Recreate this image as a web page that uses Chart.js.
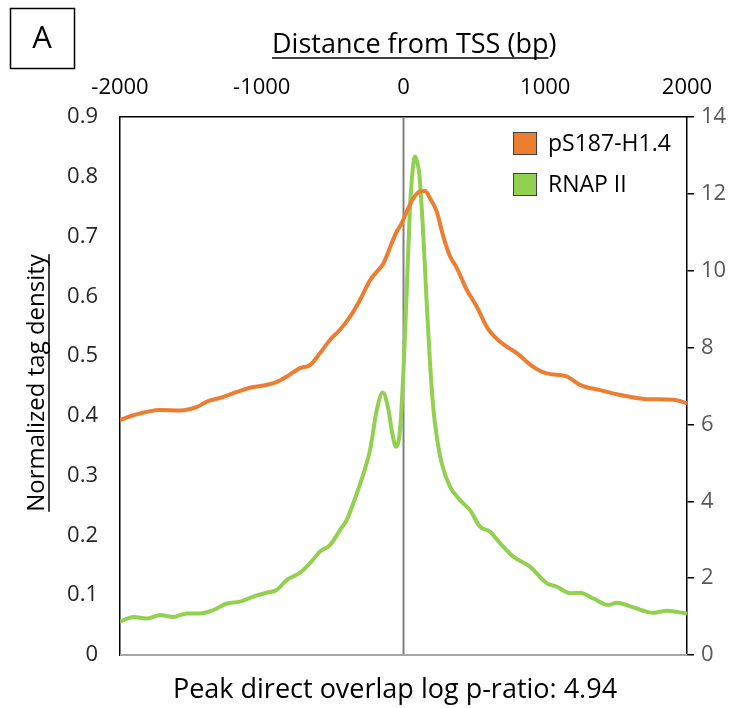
<!DOCTYPE html>
<html>
<head>
<meta charset="utf-8">
<script src="https://cdn.jsdelivr.net/npm/chart.js@4.4.1/dist/chart.umd.min.js"></script>
<style>
  html, body { margin: 0; padding: 0; background: #fff; }
  #wrap { width: 739px; height: 708px; }
</style>
</head>
<body>
<div id="wrap"><canvas id="tssChart"></canvas></div>
<script>
// distance from TSS (bp) / tag density
var h14Pos = [-2000, -1906, -1718, -1577, -1457, -1386, -1295, -1175, -1083, -963, -892, -822, -730, -660, -589,
  -519, -448, -377, -307, -236, -189, -142, -83, -48, -13, 23, 69, 116, 152, 187, 234, 281, 328, 375, 446, 516,
  587, 610, 681, 728, 799, 916, 1010, 1151, 1245, 1386, 1527, 1716, 1903, 2000];
var h14Val = [0.393, 0.401, 0.410, 0.409, 0.415, 0.424, 0.430, 0.440, 0.447, 0.452, 0.457, 0.466, 0.480, 0.485, 0.505,
  0.527, 0.544, 0.566, 0.594, 0.627, 0.641, 0.655, 0.689, 0.708, 0.722, 0.742, 0.764, 0.775, 0.776, 0.764, 0.742, 0.700,
  0.667, 0.648, 0.611, 0.583, 0.549, 0.541, 0.524, 0.516, 0.505, 0.482, 0.471, 0.466, 0.452, 0.443, 0.435, 0.428,
  0.427, 0.421];

var rnapPos = [-2000, -1906, -1812, -1718, -1624, -1529, -1436, -1342, -1247, -1153, -1060, -965, -895, -824, -730,
  -660, -589, -519, -448, -401, -354, -284, -236, -189, -147, -107, -81, -53, -25, -1, 23, 46, 67, 81, 95, 112, 140,
  163, 187, 211, 234, 269, 328, 399, 469, 540, 610, 681, 775, 892, 1010, 1081, 1175, 1245, 1339, 1445, 1504, 1621,
  1762, 1857, 2000];
var rnapVal = [0.87, 0.99, 0.95, 1.04, 0.99, 1.08, 1.08, 1.17, 1.34, 1.39, 1.52, 1.62, 1.69, 1.95, 2.14,
  2.39, 2.69, 2.86, 3.25, 3.51, 3.95, 4.70, 5.33, 6.37, 6.83, 6.40, 5.80, 5.42, 5.85, 7.35, 9.50, 11.66, 12.70, 12.97,
  12.85, 12.50, 10.90, 9.20, 7.60, 6.40, 5.70, 5.00, 4.38, 4.03, 3.77, 3.34, 3.21, 2.91, 2.56, 2.30, 1.87, 1.78,
  1.61, 1.62, 1.47, 1.30, 1.36, 1.24, 1.10, 1.15, 1.08];

var seriesNames = ['pS187-H1.4', 'RNAP II'];
var seriesColors = ['#ED7D31', '#92D050'];

var panelLetter = 'A';
var topTitle = 'Distance from TSS (bp';   // closing paren is not underlined in the original
var leftTitle = 'Normalized tag density';
var footNote = 'Peak direct overlap log p-ratio: 4.94';

var FONT = '"Open Sans", "Noto Sans", sans-serif';

function toPoints(xs, ys) {
  var pts = [];
  for (var i = 0; i < xs.length; i++) pts.push({ x: xs[i], y: ys[i] });
  return pts;
}

// gray TSS marker and bottom axis line, under the curves
var underlay = {
  id: 'underlay',
  beforeDatasetsDraw: function(chart) {
    var ctx = chart.ctx, a = chart.chartArea;
    var x0 = chart.scales.x.getPixelForValue(0);
    ctx.save();
    ctx.strokeStyle = '#808080';
    ctx.lineWidth = 2;
    ctx.beginPath();
    ctx.moveTo(x0, a.top);
    ctx.lineTo(x0, a.bottom);
    ctx.stroke();
    ctx.strokeStyle = '#A6A6A6';
    ctx.lineWidth = 2;
    ctx.beginPath();
    ctx.moveTo(a.left, a.bottom);
    ctx.lineTo(a.right, a.bottom);
    ctx.stroke();
    ctx.restore();
  }
};

// titles, panel letter, legend and footnote
var decorations = {
  id: 'decorations',
  afterDraw: function(chart) {
    var ctx = chart.ctx, a = chart.chartArea;
    ctx.save();
    ctx.fillStyle = '#000';
    ctx.strokeStyle = '#000';

    // panel letter in a box
    ctx.lineWidth = 1.5;
    ctx.strokeRect(10.5, 8.5, 64, 60);
    ctx.font = '31px ' + FONT;
    ctx.textAlign = 'center';
    ctx.textBaseline = 'middle';
    ctx.fillText(panelLetter, 42, 39);

    // top title, underlined
    ctx.font = '27px ' + FONT;
    ctx.textAlign = 'left';
    ctx.textBaseline = 'alphabetic';
    var tx = 272;
    ctx.fillText(topTitle, tx, 53);
    var w = ctx.measureText(topTitle).width;
    ctx.fillText(')', tx + w, 53);
    ctx.lineWidth = 1.5;
    ctx.beginPath();
    ctx.moveTo(tx, 58);
    ctx.lineTo(tx + w, 58);
    ctx.stroke();

    // left title, rotated and underlined
    ctx.save();
    ctx.translate(44, 383);
    ctx.rotate(-Math.PI / 2);
    ctx.font = '24px ' + FONT;
    ctx.textAlign = 'center';
    ctx.textBaseline = 'alphabetic';
    ctx.fillText(leftTitle, 0, 0);
    var lw = ctx.measureText(leftTitle).width;
    ctx.beginPath();
    ctx.moveTo(-lw / 2, 5);
    ctx.lineTo(lw / 2, 5);
    ctx.stroke();
    ctx.restore();

    // legend inside the plot, top right
    ctx.font = '23px ' + FONT;
    ctx.textAlign = 'left';
    ctx.textBaseline = 'middle';
    for (var i = 0; i < seriesNames.length; i++) {
      var bx = a.right - 174, by = a.top + 15 + i * 41;
      ctx.fillStyle = seriesColors[i];
      ctx.fillRect(bx, by, 24, 23);
      ctx.strokeStyle = '#404040';
      ctx.lineWidth = 1;
      ctx.strokeRect(bx + 0.5, by + 0.5, 23, 22);
      ctx.fillStyle = '#000';
      ctx.fillText(seriesNames[i], bx + 35, by + 12);
    }

    // footnote
    ctx.font = '27px ' + FONT;
    ctx.textAlign = 'center';
    ctx.textBaseline = 'middle';
    ctx.fillText(footNote, 395, 690);
    ctx.restore();
  }
};

var ctx = document.getElementById('tssChart');
var tssChart = new Chart(ctx, {
  type: 'line',
  data: {
    datasets: [{
      label: seriesNames[0],
      data: toPoints(h14Pos, h14Val),
      yAxisID: 'yLeft',
      borderColor: seriesColors[0],
      borderWidth: 4,
      pointRadius: 0,
      cubicInterpolationMode: 'monotone',
      fill: false
    }, {
      label: seriesNames[1],
      data: toPoints(rnapPos, rnapVal),
      yAxisID: 'yRight',
      borderColor: seriesColors[1],
      borderWidth: 4,
      pointRadius: 0,
      cubicInterpolationMode: 'monotone',
      fill: false
    }]
  },
  options: {
    responsive: true,
    maintainAspectRatio: false,
    animation: false,
    devicePixelRatio: 1,
    layout: { padding: { top: 0, left: 0, right: 0, bottom: 53 } },
    plugins: {
      legend: { display: false },
      tooltip: { enabled: false }
    },
    scales: {
      x: {
        type: 'linear',
        position: 'top',
        min: -2000,
        max: 2000,
        ticks: {
          stepSize: 1000,
          maxRotation: 0,
          padding: 16,
          color: '#000',
          font: { family: FONT, size: 22 },
          callback: function(v) { return String(v); }
        },
        grid: { display: false, drawTicks: false },
        border: { display: true, color: '#000', width: 1.5 },
        afterFit: function(s) { s.height = 117; }
      },
      yLeft: {
        type: 'linear',
        position: 'left',
        min: 0,
        max: 0.9,
        ticks: {
          stepSize: 0.1,
          padding: 22,
          color: '#262626',
          font: { family: FONT, size: 22 },
          callback: function(v) { return v === 0 ? '0' : v.toFixed(1); }
        },
        grid: { display: false, drawTicks: false },
        border: { display: true, color: '#000', width: 1.5 },
        afterFit: function(s) { s.width = 120; }
      },
      yRight: {
        type: 'linear',
        position: 'right',
        min: 0,
        max: 14,
        ticks: {
          stepSize: 2,
          padding: 7,
          color: '#595959',
          font: { family: FONT, size: 22 }
        },
        grid: { drawOnChartArea: false, drawTicks: true, tickLength: 7, color: '#000', lineWidth: 1.5 },
        border: { display: true, color: '#000', width: 1.5 },
        afterFit: function(s) { s.width = 52; }
      }
    }
  },
  plugins: [underlay, decorations]
});
</script>
</body>
</html>
